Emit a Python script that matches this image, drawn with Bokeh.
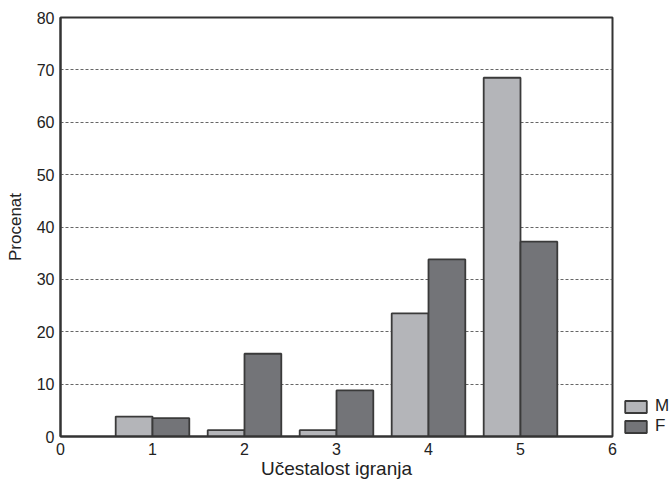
from bokeh.plotting import figure
from bokeh.models import Range1d, FixedTicker, Legend, LegendItem, ColumnDataSource
from bokeh.embed import file_html
from bokeh.resources import INLINE

categories = [1, 2, 3, 4, 5]
m_values = [3.8, 1.2, 1.2, 23.5, 68.5]
f_values = [3.5, 15.8, 8.8, 33.8, 37.2]
x_ticks = [0, 1, 2, 3, 4, 5, 6]
y_ticks = [0, 10, 20, 30, 40, 50, 60, 70, 80]
bar_w = 0.4

FONT = "Liberation Sans"

p = figure(width=669, height=484, output_backend="svg", toolbar_location=None,
           x_range=Range1d(0, 6), y_range=Range1d(0, 80),
           frame_width=552, frame_height=419,
           min_border_left=60, min_border_top=17, min_border_right=0, min_border_bottom=48)

src = ColumnDataSource(dict(
    xm=[c - bar_w / 2 for c in categories],
    xf=[c + bar_w / 2 for c in categories],
    m=m_values, f=f_values))

rm = p.vbar(x="xm", top="m", width=bar_w, source=src, fill_color="#b4b5b9",
            line_color="#3a3a3a", line_width=1.8)
rf = p.vbar(x="xf", top="f", width=bar_w, source=src, fill_color="#737478",
            line_color="#3a3a3a", line_width=1.8)

p.xaxis.ticker = FixedTicker(ticks=x_ticks)
p.yaxis.ticker = FixedTicker(ticks=y_ticks)
p.xaxis.axis_label = "Učestalost igranja"
p.yaxis.axis_label = "Procenat"
for ax in (p.xaxis, p.yaxis):
    ax.axis_label_text_font = FONT
    ax.axis_label_text_font_style = "normal"
    ax.axis_label_text_color = "#222"
    ax.major_label_text_font = FONT
    ax.major_label_text_font_size = "16px"
    ax.major_label_text_color = "#222"
    ax.axis_line_color = "#333"
    ax.axis_line_width = 2
    ax.major_tick_out = 0
    ax.major_tick_in = 0
    ax.minor_tick_out = 0
    ax.minor_tick_in = 0
p.xaxis.axis_label_text_font_size = "19px"
p.yaxis.axis_label_text_font_size = "17px"
p.xaxis.axis_label_standoff = 0
p.yaxis.axis_label_standoff = 9
p.xaxis.major_label_standoff = 6
p.yaxis.major_label_standoff = 6

p.xgrid.grid_line_color = None
p.ygrid.grid_line_color = "#666"
p.ygrid.grid_line_dash = "3 2"
p.ygrid.grid_line_width = 1

p.outline_line_color = "#333"
p.outline_line_width = 2
p.background_fill_color = "white"
p.border_fill_color = "white"

legend = Legend(items=[LegendItem(label="M", renderers=[rm]),
                       LegendItem(label="F", renderers=[rf])],
                location=(10, 0), padding=0, margin=0, spacing=0,
                glyph_width=27, glyph_height=15, label_height=15,
                label_standoff=6,
                label_text_font=FONT, label_text_font_size="17px",
                label_text_color="#222",
                label_text_line_height=0.8,
                border_line_alpha=0, background_fill_alpha=0)
p.add_layout(legend, "right")

open("out.html", "w").write(file_html(p, INLINE))
